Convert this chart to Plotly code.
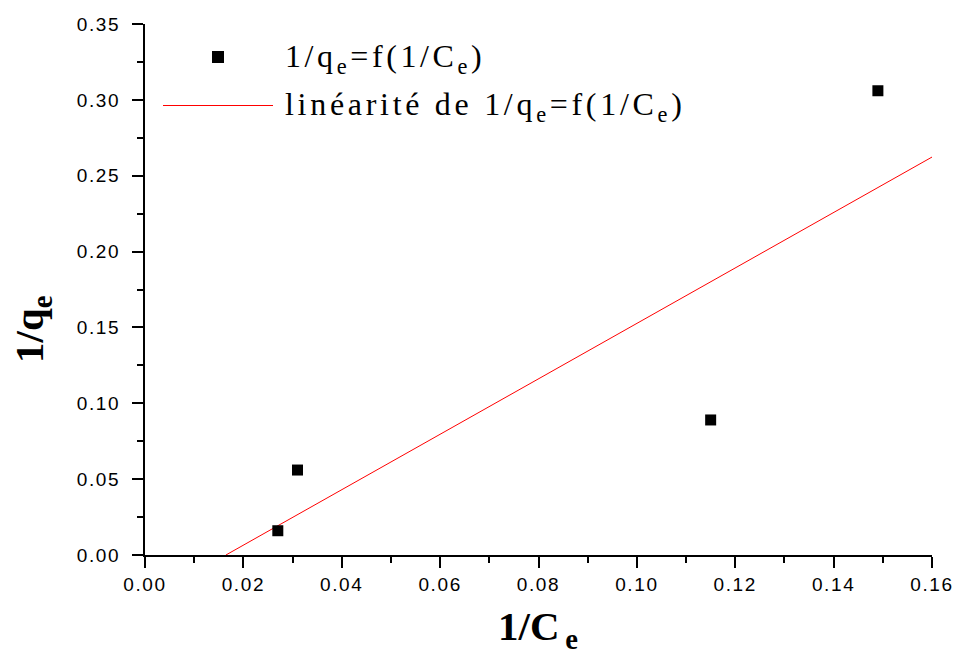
import plotly.graph_objects as go

# Data
inv_ce = [0.027, 0.031, 0.115, 0.149]
inv_qe = [0.016, 0.056, 0.089, 0.306]
fit_x = [0.01645, 0.16]
fit_y = [0.0, 0.2623]

x_ticks = [0.00, 0.02, 0.04, 0.06, 0.08, 0.10, 0.12, 0.14, 0.16]
x_labels = ["0.00", "0.02", "0.04", "0.06", "0.08", "0.10", "0.12", "0.14", "0.16"]
y_ticks = [0.00, 0.05, 0.10, 0.15, 0.20, 0.25, 0.30, 0.35]
y_labels = ["0.00", "0.05", "0.10", "0.15", "0.20", "0.25", "0.30", "0.35"]

W, H = 955, 655
L, R, T, B = 145, 23, 24, 100
PW, PH = W - L - R, H - T - B

def px(x):
    return (x - L) / PW

def py(y):
    return (H - B - y) / PH

def spaced(s, sp):
    return '<span style="letter-spacing:%spx">%s</span>' % (sp, s)

fig = go.Figure()
fig.add_trace(go.Scatter(x=fit_x, y=fit_y, mode="lines",
                         line=dict(color="#ff0000", width=1), showlegend=False,
                         name="linéarité de 1/qe=f(1/Ce)"))
fig.add_trace(go.Scatter(x=inv_ce, y=inv_qe, mode="markers",
                         marker=dict(symbol="square", size=11, color="black"),
                         showlegend=False, name="1/qe=f(1/Ce)"))

tickfont = dict(family="Liberation Sans, Arial, sans-serif", size=19, color="black")
serif = "Liberation Serif, Times New Roman, serif"

fig.update_xaxes(range=[0, 0.16], tickmode="array", tickvals=x_ticks,
                 ticktext=[spaced(t, 1.6) for t in x_labels],
                 showline=True, linecolor="black", linewidth=2, mirror=False,
                 ticks="outside", ticklen=11, tickwidth=2, tickcolor="black",
                 ticklabelstandoff=0,
                 minor=dict(dtick=0.01, ticks="outside", ticklen=6, tickwidth=2, tickcolor="black"),
                 showgrid=False, zeroline=False, tickfont=tickfont)
fig.update_yaxes(range=[0, 0.35], tickmode="array", tickvals=y_ticks,
                 ticktext=[spaced(t, 1.6) for t in y_labels],
                 showline=True, linecolor="black", linewidth=2, mirror=False,
                 ticks="outside", ticklen=11, tickwidth=2, tickcolor="black",
                 ticklabelstandoff=8,
                 minor=dict(dtick=0.025, ticks="outside", ticklen=6, tickwidth=2, tickcolor="black"),
                 showgrid=False, zeroline=False, tickfont=tickfont)

annotations = [
    dict(text="<b>1/C<sub>\u2009e</sub></b>", x=px(538), y=py(601), xref="paper", yref="paper",
         xanchor="center", yanchor="top", showarrow=False,
         font=dict(family=serif, size=41, color="black")),
    dict(text="<b>1/q<sub>e</sub></b>", x=px(32), y=py(329), xref="paper", yref="paper",
         xanchor="center", yanchor="middle", textangle=-90, showarrow=False,
         font=dict(family=serif, size=41, color="black")),
    dict(text=spaced("1/q<sub>e</sub>=f(1/C<sub>e</sub>)", 3.6), x=px(283), y=py(58), xref="paper", yref="paper",
         xanchor="left", yanchor="middle", showarrow=False,
         font=dict(family=serif, size=32, color="black")),
    dict(text=spaced("linéarité de 1/q<sub>e</sub>=f(1/C<sub>e</sub>)", 3.7), x=px(283), y=py(107), xref="paper", yref="paper",
         xanchor="left", yanchor="middle", showarrow=False,
         font=dict(family=serif, size=32, color="black")),
]

shapes = [
    dict(type="rect", xref="paper", yref="paper", x0=px(212), x1=px(224), y0=py(51), y1=py(63),
         fillcolor="black", line=dict(width=0)),
    dict(type="line", xref="paper", yref="paper", x0=px(163), x1=px(273), y0=py(105.5), y1=py(105.5),
         line=dict(color="#ff0000", width=1)),
]

fig.update_layout(width=W, height=H, margin=dict(l=L, r=R, t=T, b=B, autoexpand=False),
                  plot_bgcolor="white", paper_bgcolor="white",
                  annotations=annotations, shapes=shapes, showlegend=False)

fig.write_html("out.html", config={"displayModeBar": False},
               post_script="document.body.style.margin='0';document.body.style.overflow='hidden';")
